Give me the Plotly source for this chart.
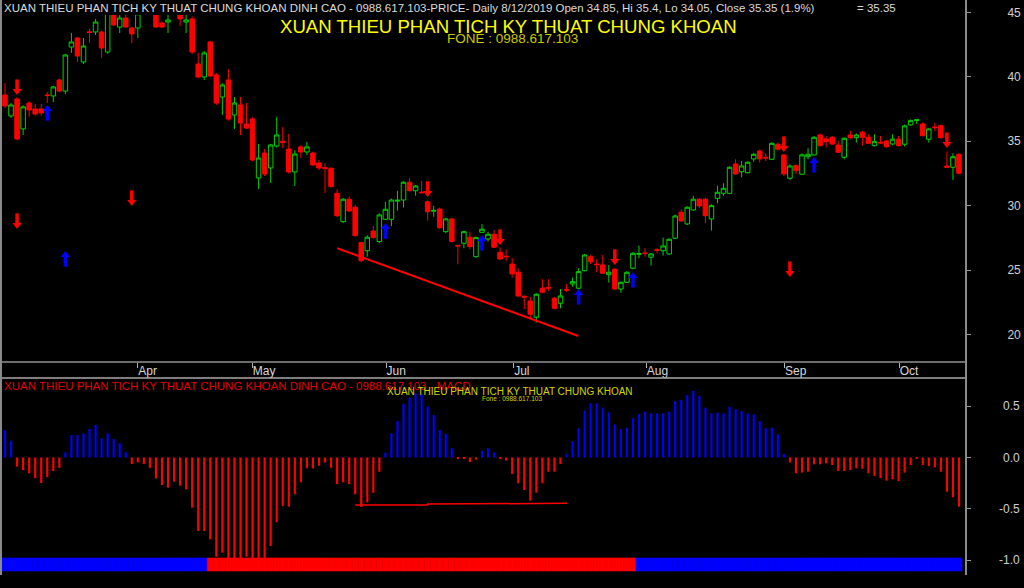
import plotly.graph_objects as go

# ------------------------- DATA -------------------------
opens = [38.59, 36.96, 38.28, 35.96, 37.97, 37.51, 37.51, 38.60, 38.52, 39.76,
         38.90, 42.32, 43.02, 41.16, 43.50, 43.49, 43.49, 41.93, 44.90, 43.87,
         44.57, 43.80, 43.80, 45.60, 45.20, 45.30, 44.18, 44.26, 45.00, 45.20,
         44.26, 44.50, 41.00, 39.99, 42.71, 40.15, 38.44, 39.76, 37.04, 37.82,
         36.34, 36.73, 32.15, 34.09, 32.93, 34.63, 35.00, 34.40, 32.62, 34.56,
         34.17, 34.09, 33.32, 32.95, 32.90, 30.96, 28.76, 30.50, 29.88, 27.13,
         26.50, 28.03, 27.21, 28.94, 28.94, 30.35, 30.44, 31.82, 31.16, 31.05,
         30.31, 29.57, 29.74, 27.98, 28.97, 26.92, 27.08, 27.55, 26.04, 27.93,
         27.41, 27.78, 26.38, 26.07, 25.47, 24.83, 22.95, 22.60, 21.34, 23.59,
         23.65, 22.81, 22.42, 23.48, 23.92, 23.59, 24.95, 26.04, 25.47, 25.40,
         24.64, 25.06, 23.53, 24.05, 25.14, 26.22, 26.33, 26.00, 26.58, 26.50,
         26.25, 27.47, 29.49, 28.58, 29.67, 30.50, 30.50, 28.97, 30.57, 30.96,
         30.96, 33.24, 32.64, 32.56, 33.63, 34.25, 33.75, 33.60, 34.77, 33.94,
         32.13, 33.11, 32.44, 33.80, 33.94, 35.49, 35.18, 35.31, 34.71, 33.76,
         35.49, 35.28, 35.70, 35.31, 34.66, 34.92, 35.02, 34.79, 35.16, 34.77,
         36.27, 36.62, 36.34, 35.16, 36.11, 36.21, 33.08, 32.98, 33.99]
highs = [39.52, 37.97, 38.44, 37.80, 38.10, 37.90, 37.90, 38.83, 39.30, 39.85,
         41.80, 43.41, 43.10, 43.02, 43.72, 44.50, 43.60, 45.60, 45.30, 45.00,
         44.90, 43.90, 45.50, 45.80, 45.90, 45.50, 44.30, 44.80, 46.00, 45.40,
         44.90, 44.70, 41.86, 42.00, 42.80, 40.30, 39.50, 40.61, 38.44, 38.44,
         37.97, 36.85, 34.79, 34.40, 34.80, 36.89, 36.10, 35.57, 34.30, 34.70,
         34.95, 34.20, 33.55, 33.32, 33.00, 31.27, 30.60, 30.70, 30.05, 27.20,
         27.70, 28.42, 29.40, 30.30, 30.55, 31.16, 31.90, 32.13, 31.60, 31.92,
         30.40, 29.98, 29.85, 29.05, 29.05, 26.95, 28.05, 27.98, 27.60, 28.57,
         27.98, 28.11, 26.74, 26.61, 25.92, 25.14, 23.07, 22.93, 23.20, 24.29,
         24.29, 22.90, 23.53, 23.92, 24.41, 25.14, 26.25, 26.17, 25.84, 26.17,
         25.40, 25.15, 24.10, 24.90, 26.40, 26.89, 26.69, 26.30, 26.69, 27.52,
         27.45, 29.30, 29.72, 29.95, 30.75, 30.60, 30.62, 30.10, 31.55, 31.74,
         33.05, 33.60, 33.47, 33.45, 34.10, 34.35, 34.07, 34.90, 34.90, 34.00,
         33.20, 33.20, 34.07, 34.46, 35.40, 35.60, 35.41, 35.40, 35.02, 35.30,
         35.82, 35.60, 35.80, 35.54, 35.54, 35.41, 35.10, 35.54, 35.41, 36.30,
         36.70, 36.67, 36.47, 36.00, 36.44, 36.30, 34.20, 34.07, 34.05]
lows = [37.58, 36.81, 35.10, 35.49, 36.89, 37.00, 37.00, 37.97, 38.05, 38.80,
        38.67, 41.86, 41.16, 41.00, 42.63, 43.25, 41.47, 41.80, 43.95, 43.41,
        43.80, 42.63, 43.02, 44.80, 45.10, 43.80, 43.80, 43.41, 44.90, 43.95,
        43.41, 41.78, 39.90, 39.76, 40.00, 37.82, 37.04, 36.60, 35.96, 35.49,
        35.95, 33.45, 31.30, 32.30, 31.76, 34.50, 34.48, 32.50, 31.53, 33.70,
        33.94, 33.10, 32.77, 30.99, 31.40, 29.10, 28.65, 29.50, 27.60, 25.60,
        26.04, 27.45, 27.10, 28.90, 28.42, 29.61, 29.85, 31.10, 30.78, 30.96,
        28.84, 29.14, 28.20, 27.86, 27.15, 25.45, 26.69, 26.64, 25.95, 27.90,
        27.20, 26.70, 25.80, 25.70, 24.41, 22.90, 21.96, 21.20, 20.92, 23.20,
        23.38, 21.95, 22.03, 23.32, 23.71, 23.50, 24.90, 25.47, 24.83, 24.70,
        24.02, 23.45, 23.24, 24.00, 25.05, 25.92, 26.04, 25.34, 26.30, 26.12,
        26.20, 27.40, 28.75, 28.50, 29.60, 29.80, 28.63, 28.06, 30.19, 30.78,
        30.90, 32.40, 32.20, 32.50, 33.40, 33.34, 33.47, 33.55, 34.30, 32.30,
        32.00, 32.46, 32.40, 33.60, 33.90, 34.60, 34.53, 34.70, 34.10, 33.60,
        35.20, 34.89, 34.66, 34.80, 34.60, 34.79, 34.50, 34.70, 34.60, 34.60,
        36.20, 36.34, 35.40, 34.89, 35.80, 35.20, 32.95, 32.00, 32.45]
closes = [37.74, 37.82, 35.18, 37.67, 37.43, 37.12, 37.20, 38.55, 39.22, 38.90,
          41.70, 42.71, 41.62, 42.40, 43.45, 44.26, 42.24, 45.30, 44.03, 44.57,
          43.87, 43.33, 44.90, 44.90, 45.80, 43.87, 43.87, 44.42, 45.80, 44.50,
          44.42, 41.93, 39.99, 41.86, 40.07, 37.97, 39.37, 36.73, 37.97, 36.42,
          36.03, 33.55, 33.70, 32.46, 34.71, 35.49, 34.90, 32.62, 34.01, 34.17,
          34.56, 33.16, 32.93, 32.90, 31.48, 29.22, 30.50, 29.59, 27.67, 25.73,
          27.55, 27.52, 29.28, 29.72, 30.44, 30.42, 31.82, 31.16, 31.53, 31.00,
          29.53, 29.63, 28.29, 28.97, 27.21, 26.87, 27.98, 26.82, 27.52, 28.17,
          27.78, 26.77, 25.86, 26.04, 24.70, 22.99, 22.90, 21.57, 23.12, 23.28,
          23.60, 22.03, 22.99, 23.43, 24.10, 24.88, 26.17, 25.65, 25.42, 24.75,
          24.83, 23.53, 24.05, 24.83, 26.30, 26.28, 26.28, 26.25, 26.53, 26.87,
          27.39, 29.20, 28.81, 29.88, 30.50, 29.98, 29.22, 30.00, 31.04, 31.35,
          32.98, 32.46, 33.08, 33.37, 33.99, 33.63, 33.70, 34.84, 34.38, 32.46,
          33.08, 32.72, 33.94, 33.99, 35.31, 34.66, 34.97, 34.79, 34.15, 35.23,
          35.28, 35.49, 35.31, 34.84, 34.97, 34.87, 34.58, 35.16, 34.66, 36.19,
          36.60, 36.67, 35.43, 35.96, 36.06, 35.28, 32.98, 33.80, 32.52]

macd_hist = [0.267, 0.163, -0.089, -0.121, -0.153, -0.200, -0.248, -0.190, -0.131, -0.100,
             0.050, 0.218, 0.218, 0.235, 0.277, 0.316, 0.186, 0.235, 0.180, 0.138,
             0.050, -0.063, -0.047, -0.063, -0.100, -0.202, -0.267, -0.293, -0.235, -0.274,
             -0.309, -0.487, -0.714, -0.714, -0.794, -0.963, -0.924, -1.000, -1.000, -1.000,
             -0.963, -1.000, -1.000, -0.990, -0.859, -0.629, -0.471, -0.477, -0.357, -0.241,
             -0.105, -0.105, -0.080, -0.047, -0.100, -0.257, -0.241, -0.257, -0.357, -0.480,
             -0.435, -0.342, -0.138, 0.047, 0.235, 0.354, 0.519, 0.580, 0.623, 0.613,
             0.493, 0.413, 0.267, 0.228, 0.089, -0.010, -0.005, -0.045, -0.020, 0.065,
             0.090, 0.050, -0.010, -0.030, -0.160, -0.250, -0.316, -0.419, -0.342, -0.250,
             -0.138, -0.138, -0.063, 0.034, 0.160, 0.283, 0.455, 0.526, 0.526, 0.484,
             0.439, 0.322, 0.277, 0.290, 0.380, 0.422, 0.445, 0.429, 0.429, 0.429,
             0.445, 0.549, 0.558, 0.607, 0.646, 0.597, 0.484, 0.429, 0.435, 0.429,
             0.493, 0.468, 0.451, 0.429, 0.419, 0.354, 0.283, 0.290, 0.225, 0.034,
             -0.047, -0.153, -0.147, -0.138, -0.066, -0.066, -0.057, -0.073, -0.131, -0.131,
             -0.121, -0.105, -0.110, -0.153, -0.180, -0.200, -0.225, -0.212, -0.228, -0.147,
             -0.073, -0.015, -0.073, -0.083, -0.095, -0.138, -0.332, -0.387, -0.478]

trend_runs = [("up", 34), ("down", 71), ("up", 54)]

month_labels = ["Apr", "May", "Jun", "Jul", "Aug", "Sep", "Oct"]
month_pos = [21.98, 40.96, 63.1, 84.25, 106.2, 129.1, 148.1]
price_ticks = [20, 25, 30, 35, 40, 45]
macd_ticks = [0.5, 0.0, -0.5, -1.0]
macd_tick_text = ["0.5", "0.0", "-0.5", "-1.0"]

sell_idx = [2, 2, 21, 70, 82, 101, 129, 130, 156]
sell_tip = [38.59, 28.19, 29.98, 30.68, 26.95, 25.40, 34.17, 24.46, 34.48]
buy_idx = [7, 10, 63, 79, 95, 104, 134]
buy_tip = [37.82, 26.48, 28.65, 27.73, 23.53, 24.85, 33.78]

trend_x = [55.03, 94.95]
trend_y = [26.69, 19.88]
macd_level_x = [58, 70, 70, 81.5, 81.5, 93.1]
macd_level_y = [-0.461, -0.461, -0.452, -0.452, -0.445, -0.445]

header_text = ("XUAN THIEU PHAN TICH KY THUAT CHUNG KHOAN DINH CAO - 0988.617.103-PRICE- "
               "Daily 8/12/2019 Open 34.85, Hi 35.4, Lo 34.05, Close 35.35 (1.9%)")
header_value = "= 35.35"
title_text = "XUAN THIEU PHAN TICH KY THUAT CHUNG KHOAN"
phone_text = "FONE : 0988.617.103"
macd_header = "XUAN THIEU PHAN TICH KY THUAT CHUNG KHOAN DINH CAO - 0988.617.103 - MACD"
macd_title = "XUAN THIEU PHAN TICH KY THUAT CHUNG KHOAN"
macd_phone = "Fone : 0988.617.103"

# ------------------------- FIGURE -------------------------
W, H = 1024, 588
ML, MR = 2, 58
PW = W - ML - MR
FONT = "Liberation Sans, Arial, sans-serif"

N = len(closes)
xs = list(range(N))
x_range = [-0.497, 159.16]
price_range = [17.86, 45.97]
macd_range = [-1.141, 0.772]

def px_x(p):
    return (p - ML) / PW

def px_y(p):
    return 1 - p / H

ppx = (price_range[1] - price_range[0]) / 362.0

fig = go.Figure()

fig.add_trace(go.Candlestick(
    x=xs, open=opens, high=highs, low=lows, close=closes,
    increasing=dict(line=dict(color="#00d000", width=1), fillcolor="#000000"),
    decreasing=dict(line=dict(color="#ff0000", width=1), fillcolor="#ff0000"),
    whiskerwidth=0, xaxis="x", yaxis="y", hoverinfo="skip"))

fig.add_trace(go.Scatter(x=trend_x, y=trend_y, mode="lines",
                         line=dict(color="#ff0000", width=2), xaxis="x", yaxis="y"))

# sell arrows (shaft + head)
fig.add_trace(go.Scatter(x=sell_idx, y=[t + 10 * ppx for t in sell_tip], mode="markers",
                         marker=dict(symbol="line-ns", size=8, line=dict(color="#ff0000", width=3.5)),
                         xaxis="x", yaxis="y"))
fig.add_trace(go.Scatter(x=sell_idx, y=[t + 4 * ppx for t in sell_tip], mode="markers",
                         marker=dict(symbol="triangle-down", size=8, color="#ff0000", line=dict(width=0)),
                         xaxis="x", yaxis="y"))
# buy arrows (shaft + head)
fig.add_trace(go.Scatter(x=buy_idx, y=[t - 10 * ppx for t in buy_tip], mode="markers",
                         marker=dict(symbol="line-ns", size=8, line=dict(color="#0000ff", width=3.5)),
                         xaxis="x", yaxis="y"))
fig.add_trace(go.Scatter(x=buy_idx, y=[t - 4 * ppx for t in buy_tip], mode="markers",
                         marker=dict(symbol="triangle-up", size=8, color="#0000ff", line=dict(width=0)),
                         xaxis="x", yaxis="y"))

# MACD histogram
fig.add_trace(go.Bar(x=xs, y=macd_hist, width=0.36,
                     marker=dict(color=["#0000ff" if v >= 0 else "#ff0000" for v in macd_hist],
                                 line=dict(width=0)),
                     xaxis="x2", yaxis="y2"))

# trend state bar
state_colors = []
for state, n in trend_runs:
    state_colors += ["#0000ff" if state == "up" else "#ff0000"] * n
fig.add_trace(go.Bar(x=xs, y=[0.126] * N, base=-1.102, width=1.0,
                     marker=dict(color=state_colors, line=dict(color=state_colors, width=0.6)),
                     xaxis="x2", yaxis="y2"))

fig.add_trace(go.Scatter(x=macd_level_x, y=macd_level_y, mode="lines",
                         line=dict(color="#ff0000", width=1.5), xaxis="x2", yaxis="y2"))

shapes = [
    dict(type="rect", xref="paper", yref="paper", x0=0.0, x1=1.0, y0=px_y(15), y1=1.0,
         fillcolor="#000000", line=dict(width=0), layer="above"),
    dict(type="line", xref="paper", yref="paper", x0=0, x1=1, y0=px_y(362), y1=px_y(362),
         line=dict(color="#6e6e6e", width=2), layer="above"),
    dict(type="line", xref="paper", yref="paper", x0=0, x1=1, y0=px_y(378), y1=px_y(378),
         line=dict(color="#a8a8a8", width=1.5), layer="above"),
    dict(type="line", xref="paper", yref="paper", x0=px_x(1), x1=px_x(1), y0=px_y(575), y1=1,
         line=dict(color="#8a8a8a", width=2), layer="above"),
    dict(type="line", xref="paper", yref="paper", x0=1, x1=1, y0=px_y(575), y1=1,
         line=dict(color="#8a8a8a", width=2), layer="above"),
]

annotations = [
    dict(text=header_text, xref="paper", yref="paper", x=px_x(3), y=px_y(8),
         xanchor="left", yanchor="middle", showarrow=False, borderpad=0,
         font=dict(family=FONT, size=11.5, color="#dcdcdc")),
    dict(text=header_value, xref="paper", yref="paper", x=px_x(856), y=px_y(8),
         xanchor="left", yanchor="middle", showarrow=False, borderpad=0,
         font=dict(family=FONT, size=11.5, color="#dcdcdc")),
    dict(text=title_text, xref="paper", yref="paper", x=px_x(508.5), y=px_y(26),
         xanchor="center", yanchor="middle", showarrow=False, borderpad=0,
         font=dict(family=FONT, size=18.6, color="#ffff00")),
    dict(text=phone_text, xref="paper", yref="paper", x=px_x(512), y=px_y(38.5),
         xanchor="center", yanchor="middle", showarrow=False, borderpad=0,
         font=dict(family=FONT, size=13.5, color="#c8c800")),
    dict(text=macd_header, xref="paper", yref="paper", x=px_x(3), y=px_y(386),
         xanchor="left", yanchor="middle", showarrow=False, borderpad=0,
         font=dict(family=FONT, size=11.5, color="#e00000")),
    dict(text=macd_title, xref="paper", yref="paper", x=px_x(510), y=px_y(391),
         xanchor="center", yanchor="middle", showarrow=False, borderpad=0,
         font=dict(family=FONT, size=10, color="#d4d400")),
    dict(text=macd_phone, xref="paper", yref="paper", x=px_x(512), y=px_y(398),
         xanchor="center", yanchor="middle", showarrow=False, borderpad=0,
         font=dict(family=FONT, size=6.5, color="#d4d400")),
]
for v, t in zip(macd_ticks, macd_tick_text):
    annotations.append(dict(text=t, xref="paper", yref="y2", x=px_x(1021), y=v,
                            xanchor="right", yanchor="middle", showarrow=False, borderpad=0,
                            font=dict(family=FONT, size=12, color="#d0d0d0")))

fig.update_layout(
    width=W, height=H,
    margin=dict(l=ML, r=MR, t=0, b=0, autoexpand=False),
    paper_bgcolor="#000000", plot_bgcolor="#000000",
    showlegend=False, hovermode=False,
    barmode="overlay", boxgap=0.25, boxgroupgap=0,
    font=dict(family=FONT, color="#d0d0d0"),
    xaxis=dict(domain=[0, 1], range=x_range, anchor="y", showgrid=False, zeroline=False,
               showline=False, ticks="outside", ticklen=5, tickcolor="#b4b4b4", tickwidth=1,
               tickvals=month_pos, ticktext=month_labels, ticklabelposition="outside right",
               ticklabelstandoff=-2,
               tickfont=dict(family=FONT, size=12, color="#d8d8d8"), automargin=False,
               rangeslider=dict(visible=False), fixedrange=True),
    yaxis=dict(domain=[px_y(362), 1], range=price_range, side="right", anchor="x",
               showgrid=False, zeroline=False, showline=False, automargin=False,
               ticks="outside", ticklen=4, tickcolor="#9a9a9a", tickvals=price_ticks,
               ticklabelstandoff=34,
               tickfont=dict(family=FONT, size=12, color="#d0d0d0"), fixedrange=True),
    xaxis2=dict(domain=[0, 1], range=x_range, anchor="y2", visible=False, fixedrange=True),
    yaxis2=dict(domain=[px_y(575), px_y(378)], range=macd_range, side="right", anchor="x2",
                showgrid=False, zeroline=False, showline=False, automargin=False,
                ticks="outside", ticklen=4, tickcolor="#9a9a9a", tickvals=macd_ticks,
                showticklabels=False, fixedrange=True),
    shapes=shapes, annotations=annotations,
)

fig.write_html("out.html", config={"displayModeBar": False},
               post_script="document.body.style.margin='0';document.body.style.padding='0';"
                           "document.body.style.background='#000';"
                           "document.body.style.overflow='hidden';")
